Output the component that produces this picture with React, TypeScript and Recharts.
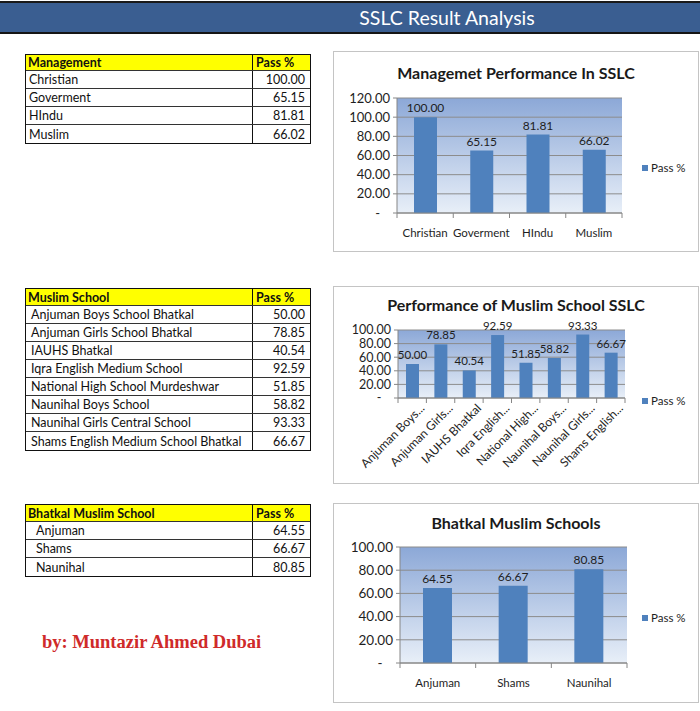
import React from 'react';
import { BarChart, Bar, XAxis, YAxis, CartesianGrid, Legend, LabelList } from 'recharts';

// management table / chart
const managementNames = ['Christian', 'Goverment', 'HIndu', 'Muslim'];
const managementPass = [100.0, 65.15, 81.81, 66.02];
const managementTicks = [0, 20, 40, 60, 80, 100, 120];

// muslim schools
const muslimSchoolNames = [
  'Anjuman Boys School Bhatkal',
  'Anjuman Girls School Bhatkal',
  'IAUHS Bhatkal',
  'Iqra English Medium School',
  'National High School Murdeshwar',
  'Naunihal Boys School',
  'Naunihal Girls Central School',
  'Shams English Medium School Bhatkal',
];
const muslimSchoolPass = [50.0, 78.85, 40.54, 92.59, 51.85, 58.82, 93.33, 66.67];

// bhatkal schools
const bhatkalNames = ['Anjuman', 'Shams', 'Naunihal'];
const bhatkalPass = [64.55, 66.67, 80.85];
const schoolTicks = [0, 20, 40, 60, 80, 100];

const FONT = 'Lato, "Open Sans", sans-serif';
const BAR_COLOR = '#4f81bd';
const AXIS_COLOR = '#868686';
const TEXT_COLOR = '#1e1e1e';

const fmtY = (v: number) => (v === 0 ? '-\u00a0\u00a0\u00a0' : v.toFixed(2));

const shortName = (name: string) => {
  const w = name.split(' ');
  return w.length > 2 ? `${w[0]} ${w[1]}...` : name;
};

// flat category label with Excel style tick marks between categories
const FlatTick = (props: any) => {
  const { x, y, payload, index, visibleTicksCount } = props;
  const half = payload.offset || 0;
  return (
    <g>
      <line x1={x - half} x2={x - half} y1={y - 5} y2={y} stroke={AXIS_COLOR} />
      {index === visibleTicksCount - 1 && (
        <line x1={x + half} x2={x + half} y1={y - 5} y2={y} stroke={AXIS_COLOR} />
      )}
      <text x={x} y={y + 14} textAnchor="middle" dominantBaseline="central" fontSize={11.5} fill={TEXT_COLOR}>
        {payload.value}
      </text>
    </g>
  );
};

const RotatedTick = (props: any) => {
  const { x, y, payload, index, visibleTicksCount } = props;
  const half = payload.offset || 0;
  return (
    <g>
      <line x1={x - half} x2={x - half} y1={y - 5} y2={y} stroke={AXIS_COLOR} />
      {index === visibleTicksCount - 1 && (
        <line x1={x + half} x2={x + half} y1={y - 5} y2={y} stroke={AXIS_COLOR} />
      )}
      <g transform={`translate(${x + 13},${y + 6})`}>
        <text textAnchor="end" transform="rotate(-45)" fontSize={12} fill={TEXT_COLOR}>
          {shortName(payload.value)}
        </text>
      </g>
    </g>
  );
};

const LegendContent = () => (
  <div style={{ display: 'flex', alignItems: 'center', fontFamily: FONT, fontSize: 11.5, color: TEXT_COLOR }}>
    <span style={{ display: 'inline-block', width: 6, height: 6, background: BAR_COLOR, marginRight: 3 }} />
    Pass %
  </div>
);

interface ChartBoxProps {
  id: string;
  title: string;
  names: string[];
  values: number[];
  ticks: number[];
  left: number;
  top: number;
  height: number;
  margin: { top: number; right: number; bottom: number; left: number };
  xHeight: number;
  barSize: number;
  rotated?: boolean;
  legendTop: number;
  titleTop: number;
  yFont: number;
  labelFont: number;
}

const ChartBox: React.FC<ChartBoxProps> = ({
  id, title, names, values, ticks, left, top, height, margin, xHeight, barSize, rotated, legendTop, titleTop,
  yFont, labelFont,
}) => {
  const data = names.map((name, i) => ({ name, value: values[i] }));
  return (
    <div
      style={{
        position: 'absolute', left, top, width: 366, height,
        border: '1px solid #c4c4c4', boxSizing: 'border-box', background: '#fff',
      }}
    >
      <div
        style={{
          position: 'absolute', left: 0, top: titleTop, width: 364, textAlign: 'center',
          fontFamily: FONT, fontWeight: 700, fontSize: 16, color: '#1a1a1a',
        }}
      >
        {title}
      </div>
      <div style={{ position: 'absolute', left: -1, top: -1 }}>
        <BarChart width={366} height={height} data={data} margin={margin} style={{ fontFamily: FONT }}>
          <defs>
            <linearGradient id={id} x1="0" y1="0" x2="0" y2="1">
              <stop offset="0%" stopColor="#8ca8d7" />
              <stop offset="100%" stopColor="#e8eff8" />
            </linearGradient>
          </defs>
          <CartesianGrid vertical={false} stroke="#8c8c8c" fill={`url(#${id})`} fillOpacity={1} />
          <XAxis
            dataKey="name"
            height={xHeight}
            interval={0}
            tickSize={5}
            tickMargin={0}
            tickLine={false}
            axisLine={{ stroke: AXIS_COLOR }}
            tick={rotated ? <RotatedTick /> : <FlatTick />}
          />
          <YAxis
            width={60}
            domain={[ticks[0], ticks[ticks.length - 1]]}
            ticks={ticks}
            interval={0}
            tickFormatter={fmtY}
            tickSize={4}
            tickMargin={3}
            axisLine={{ stroke: AXIS_COLOR }}
            tickLine={{ stroke: AXIS_COLOR }}
            tick={{ fontSize: yFont, fill: TEXT_COLOR }}
          />
          <Legend
            layout="horizontal"
            verticalAlign="middle"
            align="center"
            content={<LegendContent />}
            wrapperStyle={{ left: 309, top: legendTop, width: 60, height: 14 }}
          />
          <Bar dataKey="value" name="Pass %" fill={BAR_COLOR} barSize={barSize} isAnimationActive={false}>
            <LabelList
              dataKey="value"
              position="top"
              offset={5}
              formatter={(v: any) => Number(v).toFixed(2)}
              style={{ fontSize: labelFont, fill: TEXT_COLOR }}
            />
          </Bar>
        </BarChart>
      </div>
    </div>
  );
};

interface TableProps {
  header: string;
  names: string[];
  values: number[];
  left: number;
  top: number;
  headerHeight: number;
  indent?: number;
}

const DataTable: React.FC<TableProps> = ({ header, names, values, left, top, headerHeight, indent = 3 }) => {
  const cell: React.CSSProperties = {
    boxSizing: 'border-box', height: '100%', fontFamily: FONT, fontSize: 12.5, color: '#111',
    whiteSpace: 'nowrap', overflow: 'hidden', display: 'flex', alignItems: 'center',
  };
  return (
    <div style={{ position: 'absolute', left, top, width: 286, border: '1px solid #111', boxSizing: 'border-box' }}>
      <div
        style={{
          display: 'flex', height: headerHeight, boxSizing: 'border-box',
          background: '#ffff00', borderBottom: '1px solid #333',
        }}
      >
        <div style={{ ...cell, width: 227, paddingLeft: 2, fontWeight: 700, borderRight: '1px solid #111' }}>
          {header}
        </div>
        <div style={{ ...cell, flex: 1, paddingLeft: 3, fontWeight: 700 }}>Pass %</div>
      </div>
      {names.map((name, i) => (
        <div
          key={name}
          style={{
            display: 'flex', height: 18, boxSizing: 'border-box',
            borderBottom: i < names.length - 1 ? '1px solid #333' : 'none',
          }}
        >
          <div style={{ ...cell, width: 227, paddingLeft: indent, borderRight: '1px solid #111' }}>{name}</div>
          <div style={{ ...cell, flex: 1, paddingRight: 5, justifyContent: 'flex-end' }}>{values[i].toFixed(2)}</div>
        </div>
      ))}
    </div>
  );
};

export default function App() {
  return (
    <div style={{ position: 'absolute', left: 0, top: 0, width: 700, height: 711, background: '#fff', overflow: 'hidden' }}>
      <div
        style={{
          position: 'absolute', left: 0, top: 1, width: 700, height: 33, boxSizing: 'border-box',
          background: '#3a5e91', borderTop: '2px solid #1a1a1a', borderBottom: '2px solid #151515',
        }}
      >
        <div
          style={{
            position: 'absolute', left: 327, width: 240, top: 2, textAlign: 'center',
            fontFamily: FONT, fontSize: 19.5, color: '#fff', lineHeight: '26px',
          }}
        >
          SSLC Result Analysis
        </div>
      </div>

      <DataTable header="Management" names={managementNames} values={managementPass} left={25} top={54} headerHeight={16} />
      <DataTable
        header="Muslim School" names={muslimSchoolNames} values={muslimSchoolPass}
        left={25} top={288} headerHeight={17} indent={5}
      />
      <DataTable
        header="Bhatkal Muslim School" names={bhatkalNames} values={bhatkalPass}
        left={25} top={504} headerHeight={17} indent={10}
      />

      <div
        style={{
          position: 'absolute', left: 42, top: 630, fontFamily: '"Liberation Serif", "Times New Roman", serif',
          fontWeight: 700, fontSize: 18.5, color: '#cf2a2a', lineHeight: '24px', whiteSpace: 'nowrap',
        }}
      >
        by: Muntazir Ahmed Dubai
      </div>

      <ChartBox
        id="g1"
        title="Managemet Performance In SSLC"
        names={managementNames}
        values={managementPass}
        ticks={managementTicks}
        left={333}
        top={51}
        height={201}
        margin={{ top: 47, right: 77, bottom: 19, left: 4 }}
        xHeight={20}
        barSize={23}
        legendTop={110}
        titleTop={11}
        yFont={13}
        labelFont={12}
      />
      <ChartBox
        id="g2"
        title="Performance of Muslim School SSLC"
        names={muslimSchoolNames}
        values={muslimSchoolPass}
        ticks={schoolTicks}
        left={333}
        top={286}
        height={198}
        margin={{ top: 44, right: 74, bottom: 16, left: 5 }}
        xHeight={70}
        barSize={13}
        rotated
        legendTop={108}
        titleTop={8}
        yFont={12.5}
        labelFont={11.5}
      />
      <ChartBox
        id="g3"
        title="Bhatkal Muslim Schools"
        names={bhatkalNames}
        values={bhatkalPass}
        ticks={schoolTicks}
        left={333}
        top={503}
        height={200}
        margin={{ top: 44, right: 72, bottom: 20, left: 7 }}
        xHeight={20}
        barSize={29}
        legendTop={108}
        titleTop={9}
        yFont={13.5}
        labelFont={12}
      />
    </div>
  );
}
